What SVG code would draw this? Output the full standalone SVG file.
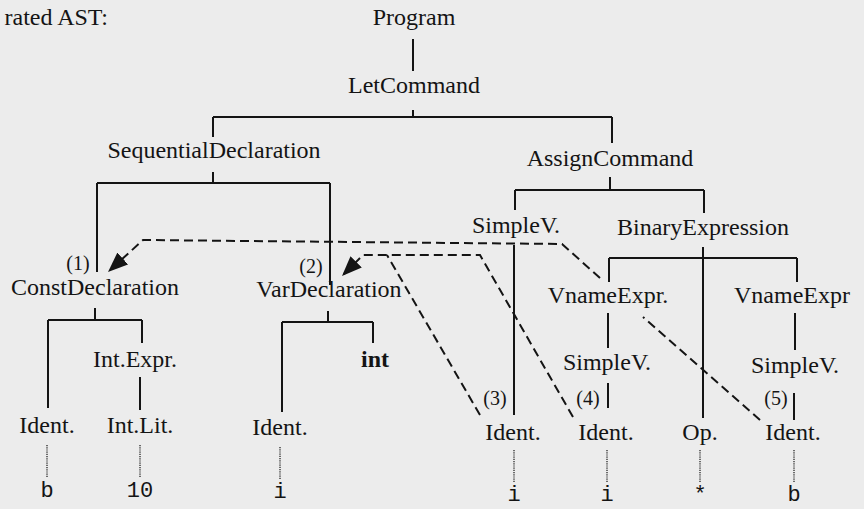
<svg xmlns="http://www.w3.org/2000/svg" width="864" height="509" viewBox="0 0 864 509">
<style>
.n{font-family:"Liberation Serif","Times New Roman",serif;font-size:24px;fill:#141414;text-anchor:middle}
.s{font-family:"Liberation Serif","Times New Roman",serif;font-size:20px;fill:#141414;text-anchor:middle}
.m{font-family:"Liberation Mono","Courier New",monospace;font-size:22px;fill:#141414;text-anchor:middle}
.t{stroke:#141414;stroke-width:2;fill:none}
.d{stroke:#141414;stroke-width:2;fill:none;stroke-dasharray:9 5}
.o{stroke:#333;stroke-width:1.4;fill:none;stroke-dasharray:1.2 1}
</style>
<defs>
<marker id="ah" markerUnits="userSpaceOnUse" markerWidth="22" markerHeight="18" refX="20" refY="8" orient="auto">
<path d="M0,0 L20,8 L0,16 z" fill="#141414"/>
</marker>
</defs>
<rect width="864" height="509" fill="#ececec"/>
<text class="n" x="108" y="25" style="text-anchor:end">rated AST:</text>
<g id="connectors">
<path class="t" d="M413 39V71 M413 110V117 M213 117H612 M213 117V137 M612 117V143"/>
<path class="t" d="M213 172V183 M97 183H330 M97 183V272 M330 183V285"/>
<path class="t" d="M95 308V320 M48 320H142 M48 320V408 M142 320V343 M140 377V410"/>
<path class="t" d="M328 311V322 M282 322H373 M282 322V412 M373 322V343"/>
<path class="t" d="M610 177V190 M515 190H704 M515 190V210 M704 190V213"/>
<path class="t" d="M514 245V415 M703 247V418 M609 258H797 M609 258V282 M797 258V282"/>
<path class="t" d="M608 313V348 M608 383V408 M795 313V350 M794 393V420"/>
<path class="o" d="M47 445V477 M140 445V477 M280 447V479 M514 450V482 M607 450V482 M700 450V482 M794 450V482"/>
<path class="d" d="M760 420L643 317"/>
<path class="d" d="M600 278L562 244L143 240L108 272" marker-end="url(#ah)"/>
<path class="d" d="M573 417L480 255L363 255L342 276" marker-end="url(#ah)"/>
<path class="d" d="M480 415L387 255"/>
</g>
<g id="program"><text class="n" x="414" y="25">Program</text></g>
<g id="letcommand"><text class="n" x="414" y="93">LetCommand</text></g>
<g id="seqdecl"><text class="n" x="214" y="158">SequentialDeclaration</text></g>
<g id="assign"><text class="n" x="610" y="166">AssignCommand</text></g>
<g id="constdecl"><text class="s" x="78" y="270">(1)</text><text class="n" x="95" y="295">ConstDeclaration</text></g>
<g id="vardecl"><text class="s" x="311" y="273">(2)</text><text class="n" x="329" y="297">VarDeclaration</text></g>
<g id="simplev1"><text class="n" x="516" y="233">SimpleV.</text></g>
<g id="binexpr"><text class="n" x="703" y="235">BinaryExpression</text></g>
<g id="vname1"><text class="n" x="608" y="303">VnameExpr.</text></g>
<g id="vname2"><text class="n" x="734" y="303" style="text-anchor:start">VnameExpr</text></g>
<g id="intexpr"><text class="n" x="135" y="367">Int.Expr.</text></g>
<g id="int"><text class="n" x="375" y="367" font-weight="bold">int</text></g>
<g id="simplev2"><text class="n" x="607" y="370">SimpleV.</text></g>
<g id="simplev3"><text class="n" x="795" y="373">SimpleV.</text></g>
<g id="ident-b1"><text class="n" x="47" y="433">Ident.</text><text class="m" x="47" y="497">b</text></g>
<g id="intlit"><text class="n" x="140" y="433">Int.Lit.</text><text class="m" x="140" y="497">10</text></g>
<g id="ident-i1"><text class="n" x="280" y="435">Ident.</text><text class="m" x="280" y="498">i</text></g>
<g id="ident-i2"><text class="s" x="495" y="405">(3)</text><text class="n" x="513" y="440">Ident.</text><text class="m" x="514" y="501">i</text></g>
<g id="ident-i3"><text class="s" x="588" y="405">(4)</text><text class="n" x="606" y="440">Ident.</text><text class="m" x="607" y="501">i</text></g>
<g id="op"><text class="n" x="700" y="440">Op.</text><text class="m" x="700" y="501">*</text></g>
<g id="ident-b2"><text class="s" x="776" y="405">(5)</text><text class="n" x="793" y="440">Ident.</text><text class="m" x="794" y="501">b</text></g>
</svg>
